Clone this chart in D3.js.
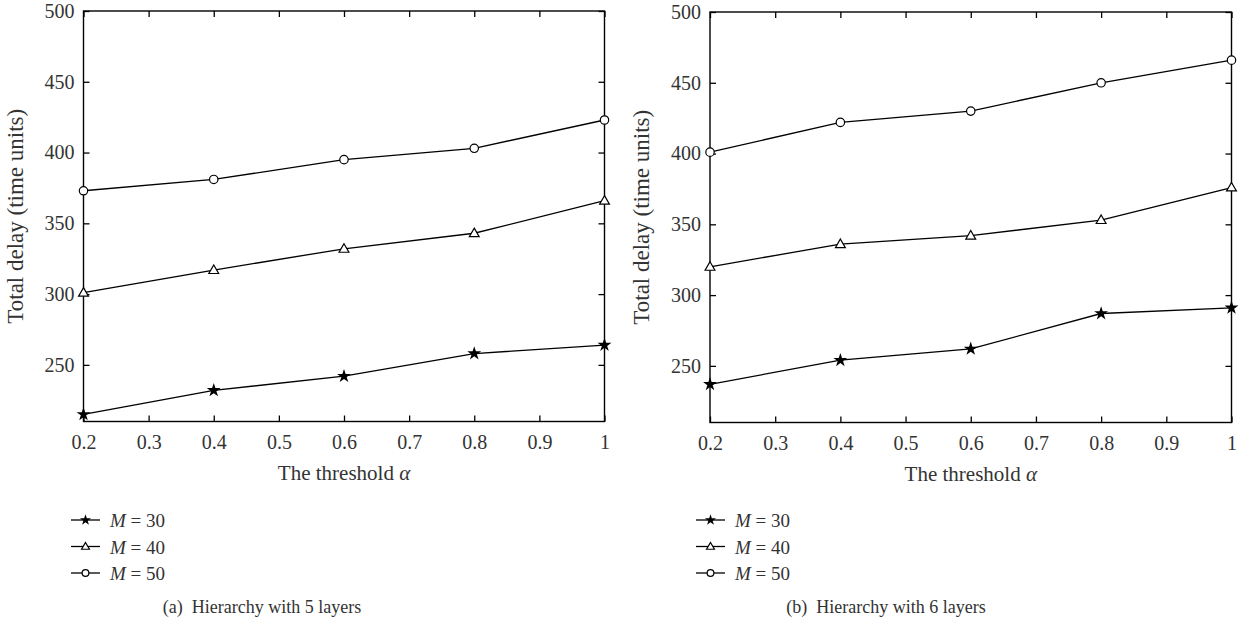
<!DOCTYPE html>
<html>
<head>
<meta charset="utf-8">
<script src="https://cdn.jsdelivr.net/npm/d3@7"></script>
<style>
  body { margin: 0; background: #fff; }
  svg text { font-family: 'Liberation Serif', 'DejaVu Serif', serif; fill: #333; }
</style>
</head>
<body>
<div id="chart"></div>
<script>
// x values (threshold alpha)
const thresholds = [0.2, 0.4, 0.6, 0.8, 1.0];
const xTicks = [0.2, 0.3, 0.4, 0.5, 0.6, 0.7, 0.8, 0.9, 1];
const yTicks = [250, 300, 350, 400, 450, 500];
const seriesNames = ['30', '40', '50'];

// panel (a): hierarchy with 5 layers
const layers5M30 = [215, 232, 242, 258, 264];
const layers5M40 = [301, 317, 332, 343, 366];
const layers5M50 = [373, 381, 395, 403, 423];

// panel (b): hierarchy with 6 layers
const layers6M30 = [237, 254, 262, 287, 291];
const layers6M40 = [320, 336, 342, 353, 376];
const layers6M50 = [401, 422, 430, 450, 466];

const W = 1244, H = 625;
const svg = d3.select('#chart').append('svg').attr('width', W).attr('height', H);

const markerType = { '30': 'star', '40': 'tri', '50': 'circ' };

function drawMarker(g, type, cx, cy, s) {
  s = s || 1;
  if (type === 'star') {
    g.append('path')
      .attr('d', d3.symbol(d3.symbolStar, 60 * s * s)())
      .attr('transform', `translate(${cx},${cy})`)
      .attr('fill', '#000');
  } else if (type === 'tri') {
    g.append('path')
      .attr('d', d3.symbol(d3.symbolTriangle, 42 * s * s)())
      .attr('transform', `translate(${cx},${cy + 0.6 * s})`)
      .attr('fill', '#fff').attr('stroke', '#000').attr('stroke-width', 1.2);
  } else {
    g.append('circle')
      .attr('cx', cx).attr('cy', cy).attr('r', 4.2 * s)
      .attr('fill', '#fff').attr('stroke', '#000').attr('stroke-width', 1.2);
  }
}

function drawPanel(opts) {
  const { left, right, top, bottom, series, legendX, caption, captionX } = opts;
  const x = d3.scaleLinear().domain([0.2, 1]).range([left, right]);
  const y = d3.scaleLinear().domain([210, 500]).range([bottom, top]);
  const g = svg.append('g');

  // inward ticks on all four sides
  g.append('g').attr('transform', `translate(0,${bottom})`)
    .call(d3.axisBottom(x).tickValues(xTicks).tickSizeInner(-6).tickSizeOuter(0).tickPadding(13).tickFormat(d3.format('')))
    .call(a => a.select('.domain').remove());
  g.append('g').attr('transform', `translate(0,${top})`)
    .call(d3.axisTop(x).tickValues(xTicks).tickSizeInner(-6).tickSizeOuter(0).tickFormat(''))
    .call(a => a.select('.domain').remove());
  g.append('g').attr('transform', `translate(${left},0)`)
    .call(d3.axisLeft(y).tickValues(yTicks).tickSizeInner(-6).tickSizeOuter(0).tickPadding(9))
    .call(a => a.select('.domain').remove());
  g.append('g').attr('transform', `translate(${right},0)`)
    .call(d3.axisRight(y).tickValues(yTicks).tickSizeInner(-6).tickSizeOuter(0).tickFormat(''))
    .call(a => a.select('.domain').remove());

  g.selectAll('.tick line').attr('stroke', '#000').attr('stroke-width', 1.3);
  g.selectAll('.tick text')
    .attr('font-family', "'Liberation Serif', serif")
    .attr('font-size', 20).attr('fill', '#333');

  g.append('rect')
    .attr('x', left).attr('y', top)
    .attr('width', right - left).attr('height', bottom - top)
    .attr('fill', 'none').attr('stroke', '#000').attr('stroke-width', 1.4);

  const line = d3.line().x((d, i) => x(thresholds[i])).y(d => y(d));
  series.forEach((vals, k) => {
    g.append('path').datum(vals)
      .attr('d', line).attr('fill', 'none')
      .attr('stroke', '#000').attr('stroke-width', 1.3);
    vals.forEach((v, i) => drawMarker(g, markerType[seriesNames[k]], x(thresholds[i]), y(v)));
  });

  // axis titles
  g.append('text')
    .attr('transform', `translate(${left - 61},${(top + bottom) / 2}) rotate(-90)`)
    .attr('text-anchor', 'middle').attr('font-size', 23)
    .text('Total delay (time units)');
  const xt = g.append('text')
    .attr('x', (left + right) / 2).attr('y', bottom + 58)
    .attr('text-anchor', 'middle').attr('font-size', 21);
  xt.append('tspan').text('The threshold ');
  xt.append('tspan').attr('font-style', 'italic').text('α');

  // legend
  seriesNames.forEach((name, k) => {
    const ly = 520 + k * 26.5;
    g.append('line')
      .attr('x1', legendX).attr('x2', legendX + 29)
      .attr('y1', ly).attr('y2', ly)
      .attr('stroke', '#000').attr('stroke-width', 1.3);
    drawMarker(g, markerType[name], legendX + 14.5, ly, 0.8);
    const t = g.append('text').attr('x', legendX + 39).attr('y', ly + 7).attr('font-size', 19);
    t.append('tspan').attr('font-style', 'italic').text('M');
    t.append('tspan').text(' = ' + name);
  });

  g.append('text')
    .attr('x', captionX).attr('y', 613)
    .attr('text-anchor', 'middle').attr('font-size', 18)
    .text(caption);
}

drawPanel({
  left: 83.5, right: 604.5, top: 11, bottom: 421.5,
  series: [layers5M30, layers5M40, layers5M50],
  legendX: 71, caption: '(a)\u2002Hierarchy with 5 layers', captionX: 262
});
drawPanel({
  left: 710, right: 1231.5, top: 12, bottom: 422.5,
  series: [layers6M30, layers6M40, layers6M50],
  legendX: 696, caption: '(b)\u2002Hierarchy with 6 layers', captionX: 886
});
</script>
</body>
</html>
